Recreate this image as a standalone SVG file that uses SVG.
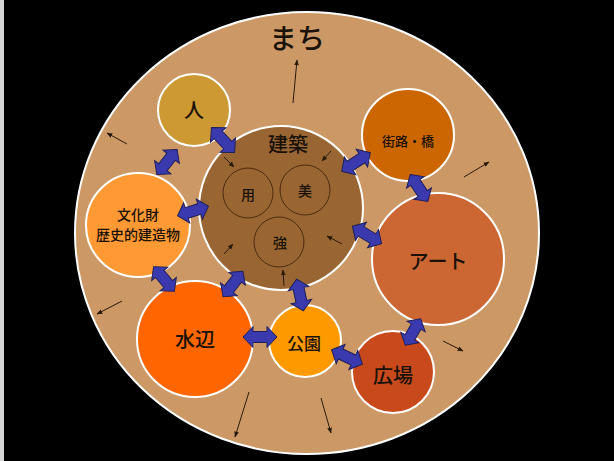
<svg xmlns="http://www.w3.org/2000/svg" width="614" height="461" viewBox="0 0 614 461">
<style>
.node{stroke:#ffffff;stroke-width:2}
.inner{fill:none;stroke:#4a2a10;stroke-width:1}
.t{font-family:"Noto Sans CJK JP","Noto Sans CJK SC",sans-serif;fill:#1a1208;text-anchor:middle;dominant-baseline:central;font-weight:500}
.thin{stroke:#2a1a0a;stroke-width:1;fill:none;marker-end:url(#ah)}
.blk{fill:#3a3aae;stroke:#1e1e5a;stroke-width:1}
</style>
<defs>
<marker id="ah" viewBox="0 0 10 10" refX="9" refY="5" markerWidth="6" markerHeight="6" orient="auto" markerUnits="userSpaceOnUse">
<path d="M0,1 L10,5 L0,9 Z" fill="#2a1a0a"/>
</marker>
<path id="dbl" d="M-17,0 L-7,-10.5 L-7,-5.5 L7,-5.5 L7,-10.5 L17,0 L7,10.5 L7,5.5 L-7,5.5 L-7,10.5 Z"/>
</defs>
<rect x="0" y="0" width="614" height="461" fill="#000000"/>
<rect x="0" y="0" width="4" height="461" fill="#d6d6d6"/>
<g id="machi">
<ellipse cx="307" cy="233" rx="232" ry="221" fill="#cc9966" stroke="#ffffff" stroke-width="2"/>
<text class="t" x="297" y="37" font-size="28">まち</text>
</g>
<g id="kenchiku">
<circle class="node" cx="281" cy="208" r="82" fill="#996633"/>
<text class="t" x="288" y="143" font-size="20">建築</text>
<circle class="inner" cx="248" cy="193" r="25"/>
<text class="t" x="248" y="194" font-size="14">用</text>
<circle class="inner" cx="305" cy="190" r="25"/>
<text class="t" x="305" y="190" font-size="14">美</text>
<circle class="inner" cx="279" cy="242" r="25"/>
<text class="t" x="280" y="242" font-size="14">強</text>
</g>
<g id="hito">
<circle class="node" cx="194" cy="110" r="36" fill="#cc9933"/>
<text class="t" x="194" y="109" font-size="20">人</text>
</g>
<g id="gairo">
<circle class="node" cx="408" cy="135" r="46" fill="#cc6600"/>
<text class="t" x="408" y="140" font-size="13">街路・橋</text>
</g>
<g id="art">
<circle class="node" cx="438" cy="259" r="66" fill="#cc6633"/>
<text class="t" x="438" y="260" font-size="20">アート</text>
</g>
<g id="bunkazai">
<circle class="node" cx="138" cy="225" r="52" fill="#ff9933"/>
<text class="t" x="138" y="214" font-size="14">文化財</text>
<text class="t" x="138" y="234" font-size="14">歴史的建造物</text>
</g>
<g id="mizube">
<circle class="node" cx="195" cy="339" r="58" fill="#ff6600"/>
<text class="t" x="195" y="338" font-size="20">水辺</text>
</g>
<g id="koen">
<circle class="node" cx="305" cy="341" r="36" fill="#ff9900"/>
<text class="t" x="304" y="342" font-size="17" font-weight="bold">公園</text>
</g>
<g id="hiroba">
<circle class="node" cx="393" cy="372" r="41" fill="#c84a1c"/>
<text class="t" x="393" y="374" font-size="20">広場</text>
</g>
<g id="connectors">
<use href="#dbl" class="blk" transform="translate(223,140) rotate(47)"/>
<use href="#dbl" class="blk" transform="translate(167,162) rotate(-51) scale(0.95,1)"/>
<use href="#dbl" class="blk" transform="translate(193,211) rotate(-17) scale(0.95,1)"/>
<use href="#dbl" class="blk" transform="translate(356,162) rotate(-33)"/>
<use href="#dbl" class="blk" transform="translate(419,188) rotate(57) scale(0.95,1)"/>
<use href="#dbl" class="blk" transform="translate(367,235) rotate(31)"/>
<use href="#dbl" class="blk" transform="translate(164,279) rotate(50) scale(0.95,1)"/>
<use href="#dbl" class="blk" transform="translate(233,284) rotate(-52) scale(0.95,1)"/>
<use href="#dbl" class="blk" transform="translate(300,295) rotate(78) scale(0.95,1)"/>
<use href="#dbl" class="blk" transform="translate(260,337) rotate(0)"/>
<use href="#dbl" class="blk" transform="translate(347,357) rotate(25)"/>
<use href="#dbl" class="blk" transform="translate(413,332) rotate(-60) scale(0.9,1)"/>
<line class="thin" x1="293" y1="103" x2="297" y2="60"/>
<line class="thin" x1="127" y1="144" x2="107" y2="133"/>
<line class="thin" x1="464" y1="177" x2="489" y2="162"/>
<line class="thin" x1="122" y1="301" x2="97" y2="314"/>
<line class="thin" x1="443" y1="341" x2="463" y2="351"/>
<line class="thin" x1="249" y1="392" x2="235" y2="437"/>
<line class="thin" x1="321" y1="398" x2="331" y2="433"/>
<line class="thin" x1="224" y1="157" x2="234" y2="167"/>
<line class="thin" x1="331" y1="151" x2="322" y2="161"/>
<line class="thin" x1="342" y1="244" x2="327" y2="236"/>
<line class="thin" x1="224" y1="254" x2="233" y2="244"/>
<line class="thin" x1="284" y1="286" x2="283" y2="270"/>
</g>
</svg>
